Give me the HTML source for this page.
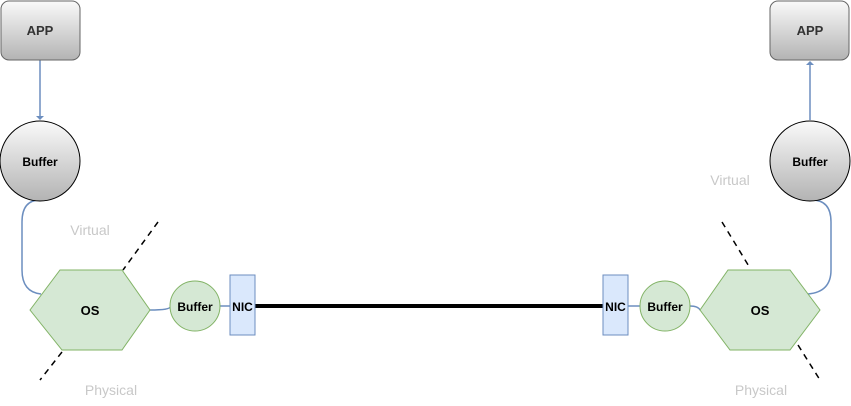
<!DOCTYPE html>
<html><head><style>body{margin:0;background:#fff}</style></head><body>
<svg width="851" height="401" viewBox="0 0 851 401" xmlns="http://www.w3.org/2000/svg" font-family="Liberation Sans, sans-serif">
<defs>
<linearGradient id="g" x1="0" y1="0" x2="0" y2="1"><stop offset="0" stop-color="#fafafa"/><stop offset="1" stop-color="#b3b3b3"/></linearGradient>
</defs>
<g fill="none" stroke="#6c8ebf" stroke-width="1.5">
<path d="M40 60 V117"/>
<path d="M40 200 Q22 200 22 222 V270 Q22 292 41 294"/>
<path d="M150 310 Q170 310 170 307"/>
<path d="M220 306 H230"/>
<path d="M810 120 V64"/>
<path d="M812 200 Q831 200 831 222 V270 Q831 292 808 294"/>
<path d="M690 306 Q698 306 700 310"/>
<path d="M628 306 H640"/>
</g>
<path d="M36 116 L40 120 L44 116 Z" fill="#6c8ebf"/>
<path d="M806 65 L810 61 L814 65 Z" fill="#6c8ebf"/>
<line x1="255" y1="306" x2="603" y2="306" stroke="#000" stroke-width="4"/>
<g stroke="#000" stroke-width="1.5" stroke-dasharray="6,5">
<path d="M158 222 L123 270"/><path d="M62 352 L40 380"/>
<path d="M722 222 L750 268"/><path d="M798 345 L820 380"/>
</g>
<rect x="1" y="1" width="79" height="59" rx="8" fill="url(#g)" stroke="#666"/>
<rect x="770" y="1" width="79" height="59" rx="8" fill="url(#g)" stroke="#666"/>
<circle cx="40" cy="161" r="40" fill="url(#g)" stroke="#000"/>
<circle cx="810" cy="161" r="40" fill="url(#g)" stroke="#000"/>
<polygon points="30,310 60,270 122,270 150,310 122,350 62,350" fill="#d5e8d4" stroke="#82b366"/>
<polygon points="700,310 728,270 790,270 820,310 790,350 730,350" fill="#d5e8d4" stroke="#82b366"/>
<circle cx="195" cy="306" r="25" fill="#d5e8d4" stroke="#82b366"/>
<circle cx="665" cy="306" r="25" fill="#d5e8d4" stroke="#82b366"/>
<rect x="230" y="275" width="25" height="60" fill="#dae8fc" stroke="#6c8ebf"/>
<rect x="603" y="275" width="25" height="60" fill="#dae8fc" stroke="#6c8ebf"/>
<g font-weight="bold" font-size="12" fill="#000" text-anchor="middle">
<text x="40" y="35" fill="#333" font-size="13">APP</text><text x="810" y="35" fill="#333" font-size="13">APP</text>
<text x="40" y="166">Buffer</text><text x="810" y="166">Buffer</text>
<text x="90" y="315" font-size="13">OS</text><text x="760" y="315" font-size="13">OS</text>
<text x="195" y="311">Buffer</text><text x="665" y="311">Buffer</text>
<text x="242.5" y="311">NIC</text><text x="615.5" y="311">NIC</text>
</g>
<g font-size="14" fill="#c8c8c8" text-anchor="middle">
<text x="90" y="235">Virtual</text><text x="730" y="185">Virtual</text>
<text x="111" y="395">Physical</text><text x="761" y="395">Physical</text>
</g>
</svg>
</body></html>
